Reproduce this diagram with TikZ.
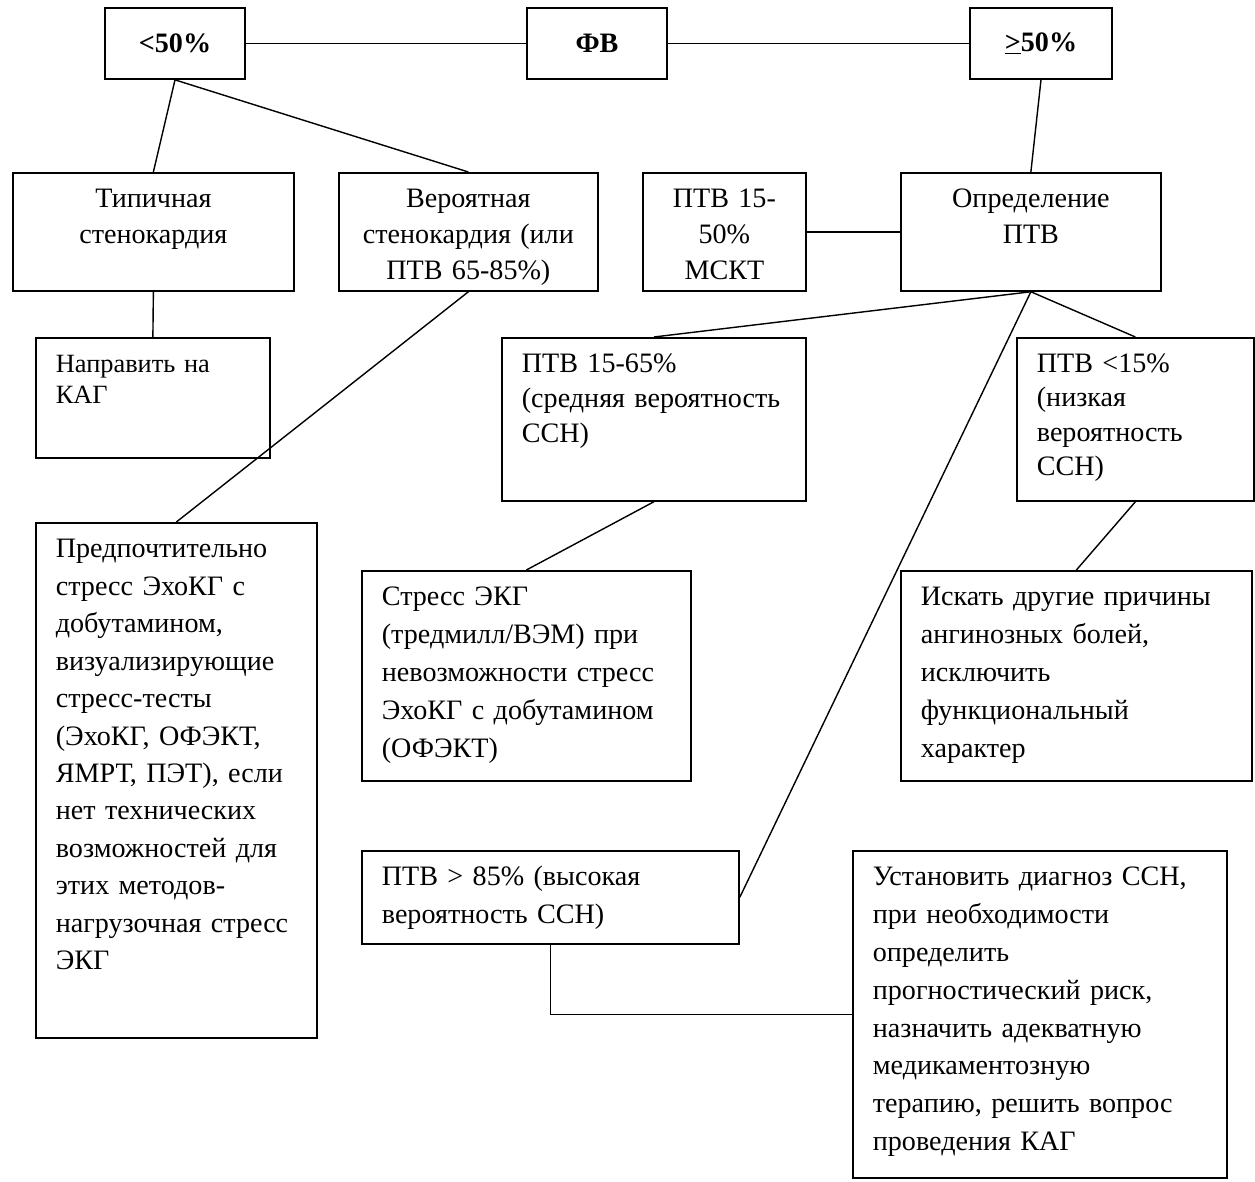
\documentclass[tikz,border=0pt]{standalone}
\usepackage{fontspec}
\setmainfont{Liberation Serif}
\usepackage{tikz}

\begin{document}
\begin{tikzpicture}[
    head/.style={rectangle, draw=black, line width=1pt, minimum width=2.8cm, minimum height=1.42cm, font=\fontsize{16}{19}\selectfont\bfseries},
    box/.style={rectangle, draw=black, line width=1pt, anchor=north west, inner xsep=0.4cm, inner ysep=0.25cm, text height=0.45cm, align=left, font=\fontsize{16}{21.5}\selectfont},
    cbox/.style={box, inner xsep=0.1cm, align=center, font=\fontsize{16}{20.4}\selectfont},
    link/.style={line width=0.8pt}
]
\useasboundingbox (0,0) rectangle (25.1,-23.64);

% EF split
\node[head] (lt50) at (3.5,-0.87) {<50\%};
\node[head] (fv) at (11.94,-0.87) {ФВ};
\node[head, minimum width=2.84cm] (ge50) at (20.82,-0.87) {\underline{>}50\%};

% Second row
\node[cbox, text width=5.42cm, text depth=1.41cm] (typ) at (0.24,-3.44) {Типичная\\стенокардия};
\node[cbox, text width=4.98cm, text depth=1.41cm] (ver) at (6.76,-3.44) {Вероятная\\стенокардия (или\\ПТВ 65-85\%)};
\node[cbox, text width=3.06cm, text depth=1.41cm] (mskt) at (12.84,-3.44) {ПТВ 15-\\50\%\\МСКТ};
\node[cbox, text width=5.0cm, text depth=1.41cm] (opr) at (18.0,-3.44) {Определение\\ПТВ};

% Pretest probability groups
\node[box, text width=3.88cm, text depth=1.45cm, font=\fontsize{15}{17.6}\selectfont] (kag) at (0.70,-6.74) {Направить на\\КАГ};
\node[box, text width=5.28cm, text depth=2.31cm, font=\fontsize{16}{19.9}\selectfont] (mid) at (10.02,-6.74) {ПТВ 15-65\%\\(средняя вероятность\\ССН)};
\node[box, text width=3.94cm, text depth=2.31cm, font=\fontsize{16}{19.4}\selectfont] (low) at (20.32,-6.74) {ПТВ <15\%\\(низкая\\вероятность\\ССН)};

% Actions
\node[box, text width=4.82cm, text depth=9.35cm, font=\fontsize{16}{21.3}\selectfont] (pref) at (0.70,-10.44) {Предпочтительно\\стресс ЭхоКГ с\\добутамином,\\визуализирующие\\стресс-тесты\\(ЭхоКГ, ОФЭКТ,\\ЯМРТ, ПЭТ), если\\нет технических\\возможностей для\\этих методов-\\нагрузочная стресс\\ЭКГ};
\node[box, text width=5.78cm, text depth=3.25cm] (stress) at (7.22,-11.40) {Стресс ЭКГ\\(тредмилл/ВЭМ) при\\невозможности стресс\\ЭхоКГ с добутамином\\(ОФЭКТ)};
\node[box, text width=6.22cm, text depth=3.25cm] (other) at (18.0,-11.40) {Искать другие причины\\ангинозных болей,\\исключить\\функциональный\\характер};
\node[box, text width=6.74cm, text depth=0.91cm] (high) at (7.22,-17.00) {ПТВ > 85\% (высокая\\вероятность ССН)};
\node[box, text width=6.68cm, text depth=5.59cm] (est) at (17.04,-17.00) {Установить диагноз ССН,\\при необходимости\\определить\\прогностический риск,\\назначить адекватную\\медикаментозную\\терапию, решить вопрос\\проведения КАГ};

% Connectors
\draw[link] (lt50.east) -- (fv.west);
\draw[link] (fv.east) -- (ge50.west);
\draw[link] (lt50.south) -- (typ.north);
\draw[link] (lt50.south) -- (ver.north);
\draw[link] (ge50.south) -- (opr.north);
\draw[link] (mskt.east) -- (opr.west);
\draw[link] (typ.south) -- (kag.north);
\draw[link] (ver.south) -- (pref.north);
\draw[link] (opr.south) -- (mid.north);
\draw[link] (opr.south) -- (low.north);
\draw[link] (opr.south) -- (high.east);
\draw[link] (mid.south) -- (stress.north);
\draw[link] (low.south) -- (other.north);
\draw[link] (high.south) |- (est.west);

\end{tikzpicture}
\end{document}
